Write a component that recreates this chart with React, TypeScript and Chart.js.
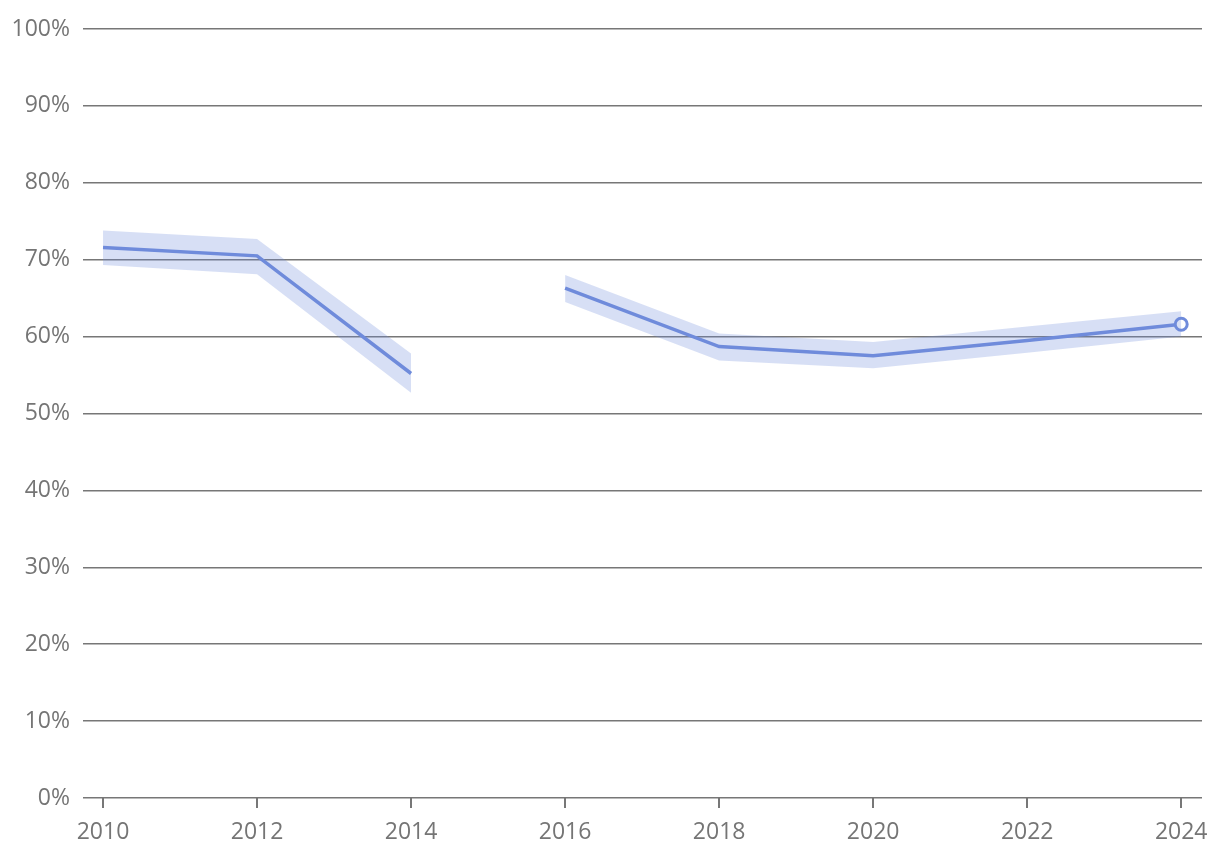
import React, { useEffect, useRef } from "react";
import { Chart, registerables } from "chart.js";

Chart.register(...registerables);

const years = [2010, 2012, 2014, 2015, 2016, 2018, 2020, 2022, 2024];
const values = [71.6, 70.5, 55.2, null, 66.3, 58.7, 57.5, 59.5, 61.6];
const upperBound = [73.8, 72.7, 57.8, null, 68.0, 60.4, 59.3, 61.3, 63.3];
const lowerBound = [69.3, 68.1, 52.7, null, 64.5, 56.9, 55.9, 57.9, 60.0];
const xTicks = [2010, 2012, 2014, 2016, 2018, 2020, 2022, 2024];
const yTicks = [0, 10, 20, 30, 40, 50, 60, 70, 80, 90, 100];

const LINE = "#6f8bdb";
const BAND = "rgba(111,139,219,0.28)";
const GRID = "#777777";
const TEXT = "#757575";
const FONT = "'Open Sans', sans-serif";

export default function App() {
  const ref = useRef<HTMLCanvasElement | null>(null);

  useEffect(() => {
    document.body.style.margin = "0";
    const pts = (arr: (number | null)[]) => years.map((x, i) => ({ x, y: arr[i] }));
    const lastIdx = years.length - 1;
    const chart = new Chart(ref.current as HTMLCanvasElement, {
      type: "line",
      data: {
        datasets: [
          {
            data: pts(lowerBound) as any,
            borderWidth: 0,
            pointRadius: 0,
            borderColor: "transparent",
            fill: false,
            spanGaps: false,
          },
          {
            data: pts(upperBound) as any,
            borderWidth: 0,
            pointRadius: 0,
            borderColor: "transparent",
            backgroundColor: BAND,
            fill: "-1",
            spanGaps: false,
          },
          {
            data: pts(values) as any,
            borderColor: LINE,
            borderWidth: 3.5,
            fill: false,
            spanGaps: false,
            pointRadius: years.map((_, i) => (i === lastIdx ? 6 : 0)),
            pointBackgroundColor: "#ffffff",
            pointBorderColor: LINE,
            pointBorderWidth: 3,
          },
        ],
      },
      options: {
        animation: false,
        responsive: true,
        maintainAspectRatio: false,
        layout: { padding: { top: 29, right: 18, bottom: 0, left: 0 } },
        plugins: { legend: { display: false }, tooltip: { enabled: false } },
        scales: {
          x: {
            type: "linear",
            min: 2009.74,
            max: 2024.27,
            afterBuildTicks: (s: any) => {
              s.ticks = xTicks.map((v) => ({ value: v }));
            },
            afterFit: (s: any) => {
              s.height = 66;
            },
            border: { display: false },
            grid: {
              display: true,
              drawOnChartArea: false,
              drawTicks: true,
              tickLength: 10,
              color: GRID,
              lineWidth: 2,
            },
            ticks: {
              color: TEXT,
              font: { family: FONT, size: 23 },
              padding: 11,
              maxRotation: 0,
              callback: (v: any) => String(v),
            },
          },
          y: {
            min: 0,
            max: 100,
            afterBuildTicks: (s: any) => {
              s.ticks = yTicks.map((v) => ({ value: v }));
            },
            afterFit: (s: any) => {
              s.width = 83;
            },
            border: { display: false },
            grid: {
              color: GRID,
              lineWidth: 1.5,
              drawTicks: false,
            },
            ticks: {
              color: TEXT,
              font: { family: FONT, size: 23 },
              padding: 13,
              callback: (v: any) => v + "%",
            },
          },
        },
      },
    });
    return () => chart.destroy();
  }, []);

  return (
    <div style={{ position: "fixed", left: 0, top: 0, width: 1220, height: 864 }}>
      <canvas ref={ref} />
    </div>
  );
}
